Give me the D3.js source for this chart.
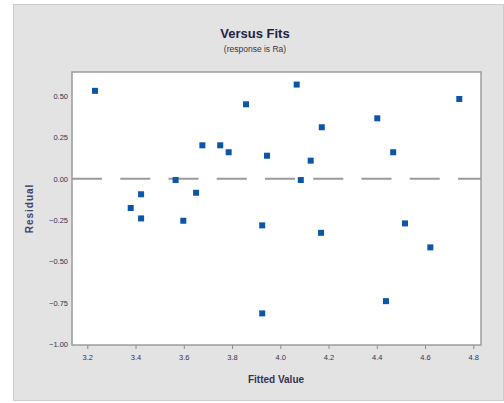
<!DOCTYPE html>
<html>
<head>
<meta charset="utf-8">
<script src="https://cdn.jsdelivr.net/npm/d3@7"></script>
<style>
  html, body { margin: 0; padding: 0; background: #ffffff; }
  svg { display: block; }
  text { font-family: "Liberation Sans Narrow", "Liberation Sans", Arial, sans-serif; }
</style>
</head>
<body>
<svg id="chart" width="504" height="403"></svg>
<script>
// Residuals versus fitted values (response is Ra)
const fittedValues = [3.232, 3.858, 3.677, 3.751, 3.786, 3.945, 3.566, 3.651, 3.423, 3.380,
                      3.423, 3.598, 3.925, 3.925, 4.068, 4.172, 4.126, 4.085, 4.402, 4.468,
                      4.742, 4.169, 4.517, 4.622, 4.438];
const residuals    = [0.531, 0.450, 0.202, 0.202, 0.160, 0.139, -0.008, -0.085, -0.094, -0.177,
                      -0.240, -0.254, -0.282, -0.814, 0.569, 0.311, 0.109, -0.008, 0.365, 0.160,
                      0.482, -0.327, -0.270, -0.415, -0.740];
const xTicks = [3.2, 3.4, 3.6, 3.8, 4.0, 4.2, 4.4, 4.6, 4.8];
const yTicks = [0.50, 0.25, 0.00, -0.25, -0.50, -0.75, -1.00];

const svg = d3.select("#chart");
const plot = { left: 72, top: 72, right: 481, bottom: 345 };

// grey outer panel
svg.append("rect")
  .attr("x", 13.5).attr("y", 4.5).attr("width", 490).attr("height", 396)
  .attr("fill", "#e3e3e3").attr("stroke", "#cdcdcd").attr("stroke-width", 1);

const x = d3.scaleLinear().domain([3.1366, 4.832]).range([plot.left, plot.right]);
const y = d3.scaleLinear().domain([-1.005, 0.645]).range([plot.bottom, plot.top]);

// plot area
svg.append("rect")
  .attr("x", plot.left).attr("y", plot.top)
  .attr("width", plot.right - plot.left).attr("height", plot.bottom - plot.top)
  .attr("fill", "#ffffff");

// reference line at zero
svg.append("line")
  .attr("x1", plot.left).attr("x2", plot.right)
  .attr("y1", y(0)).attr("y2", y(0))
  .attr("stroke", "#9a9a9a").attr("stroke-width", 2)
  .attr("stroke-dasharray", "30,18.25");

// axes
const xAxis = d3.axisBottom(x).tickValues(xTicks).tickFormat(d3.format(".1f"))
  .tickSizeOuter(0).tickSizeInner(4).tickPadding(6);
const gx = svg.append("g").attr("transform", `translate(0,${plot.bottom})`).call(xAxis);
gx.select(".domain").remove();
gx.selectAll(".tick line").attr("stroke", "#8a8a8a");
gx.selectAll(".tick text").attr("fill", "#333355").attr("font-size", 7.5);

const yAxis = d3.axisLeft(y).tickValues(yTicks).tickFormat(d3.format(".2f"))
  .tickSizeOuter(0).tickSizeInner(0).tickPadding(4);
const gy = svg.append("g").attr("transform", `translate(${plot.left},0)`).call(yAxis);
gy.select(".domain").remove();
gy.selectAll(".tick text").attr("fill", "#333355").attr("font-size", 7.5);

// plot border
svg.append("rect")
  .attr("x", plot.left).attr("y", plot.top)
  .attr("width", plot.right - plot.left).attr("height", plot.bottom - plot.top)
  .attr("fill", "none").attr("stroke", "#9c9c9c").attr("stroke-width", 1.5);

// points
const pts = fittedValues.map((f, i) => ({ f, r: residuals[i] }));
svg.append("g").selectAll("rect.pt").data(pts).join("rect")
  .attr("class", "pt")
  .attr("x", d => x(d.f) - 3).attr("y", d => y(d.r) - 3)
  .attr("width", 6).attr("height", 6)
  .attr("fill", "#0a56a8");

// titles
svg.append("text").attr("x", 255).attr("y", 38).attr("text-anchor", "middle")
  .attr("font-size", 13).attr("font-weight", "bold").attr("fill", "#222244")
  .text("Versus Fits");
svg.append("text").attr("x", 255).attr("y", 52).attr("text-anchor", "middle")
  .attr("font-size", 8.5).attr("fill", "#443333")
  .text("(response is Ra)");
svg.append("text").attr("x", 276).attr("y", 383).attr("text-anchor", "middle")
  .attr("font-size", 10).attr("font-weight", "bold").attr("fill", "#333355")
  .text("Fitted Value");
svg.append("text")
  .attr("transform", `translate(33,${(plot.top + plot.bottom) / 2}) rotate(-90)`)
  .attr("text-anchor", "middle")
  .attr("font-size", 10).attr("font-weight", "bold").attr("fill", "#444466")
  .attr("letter-spacing", 1)
  .text("Residual");
</script>
</body>
</html>
